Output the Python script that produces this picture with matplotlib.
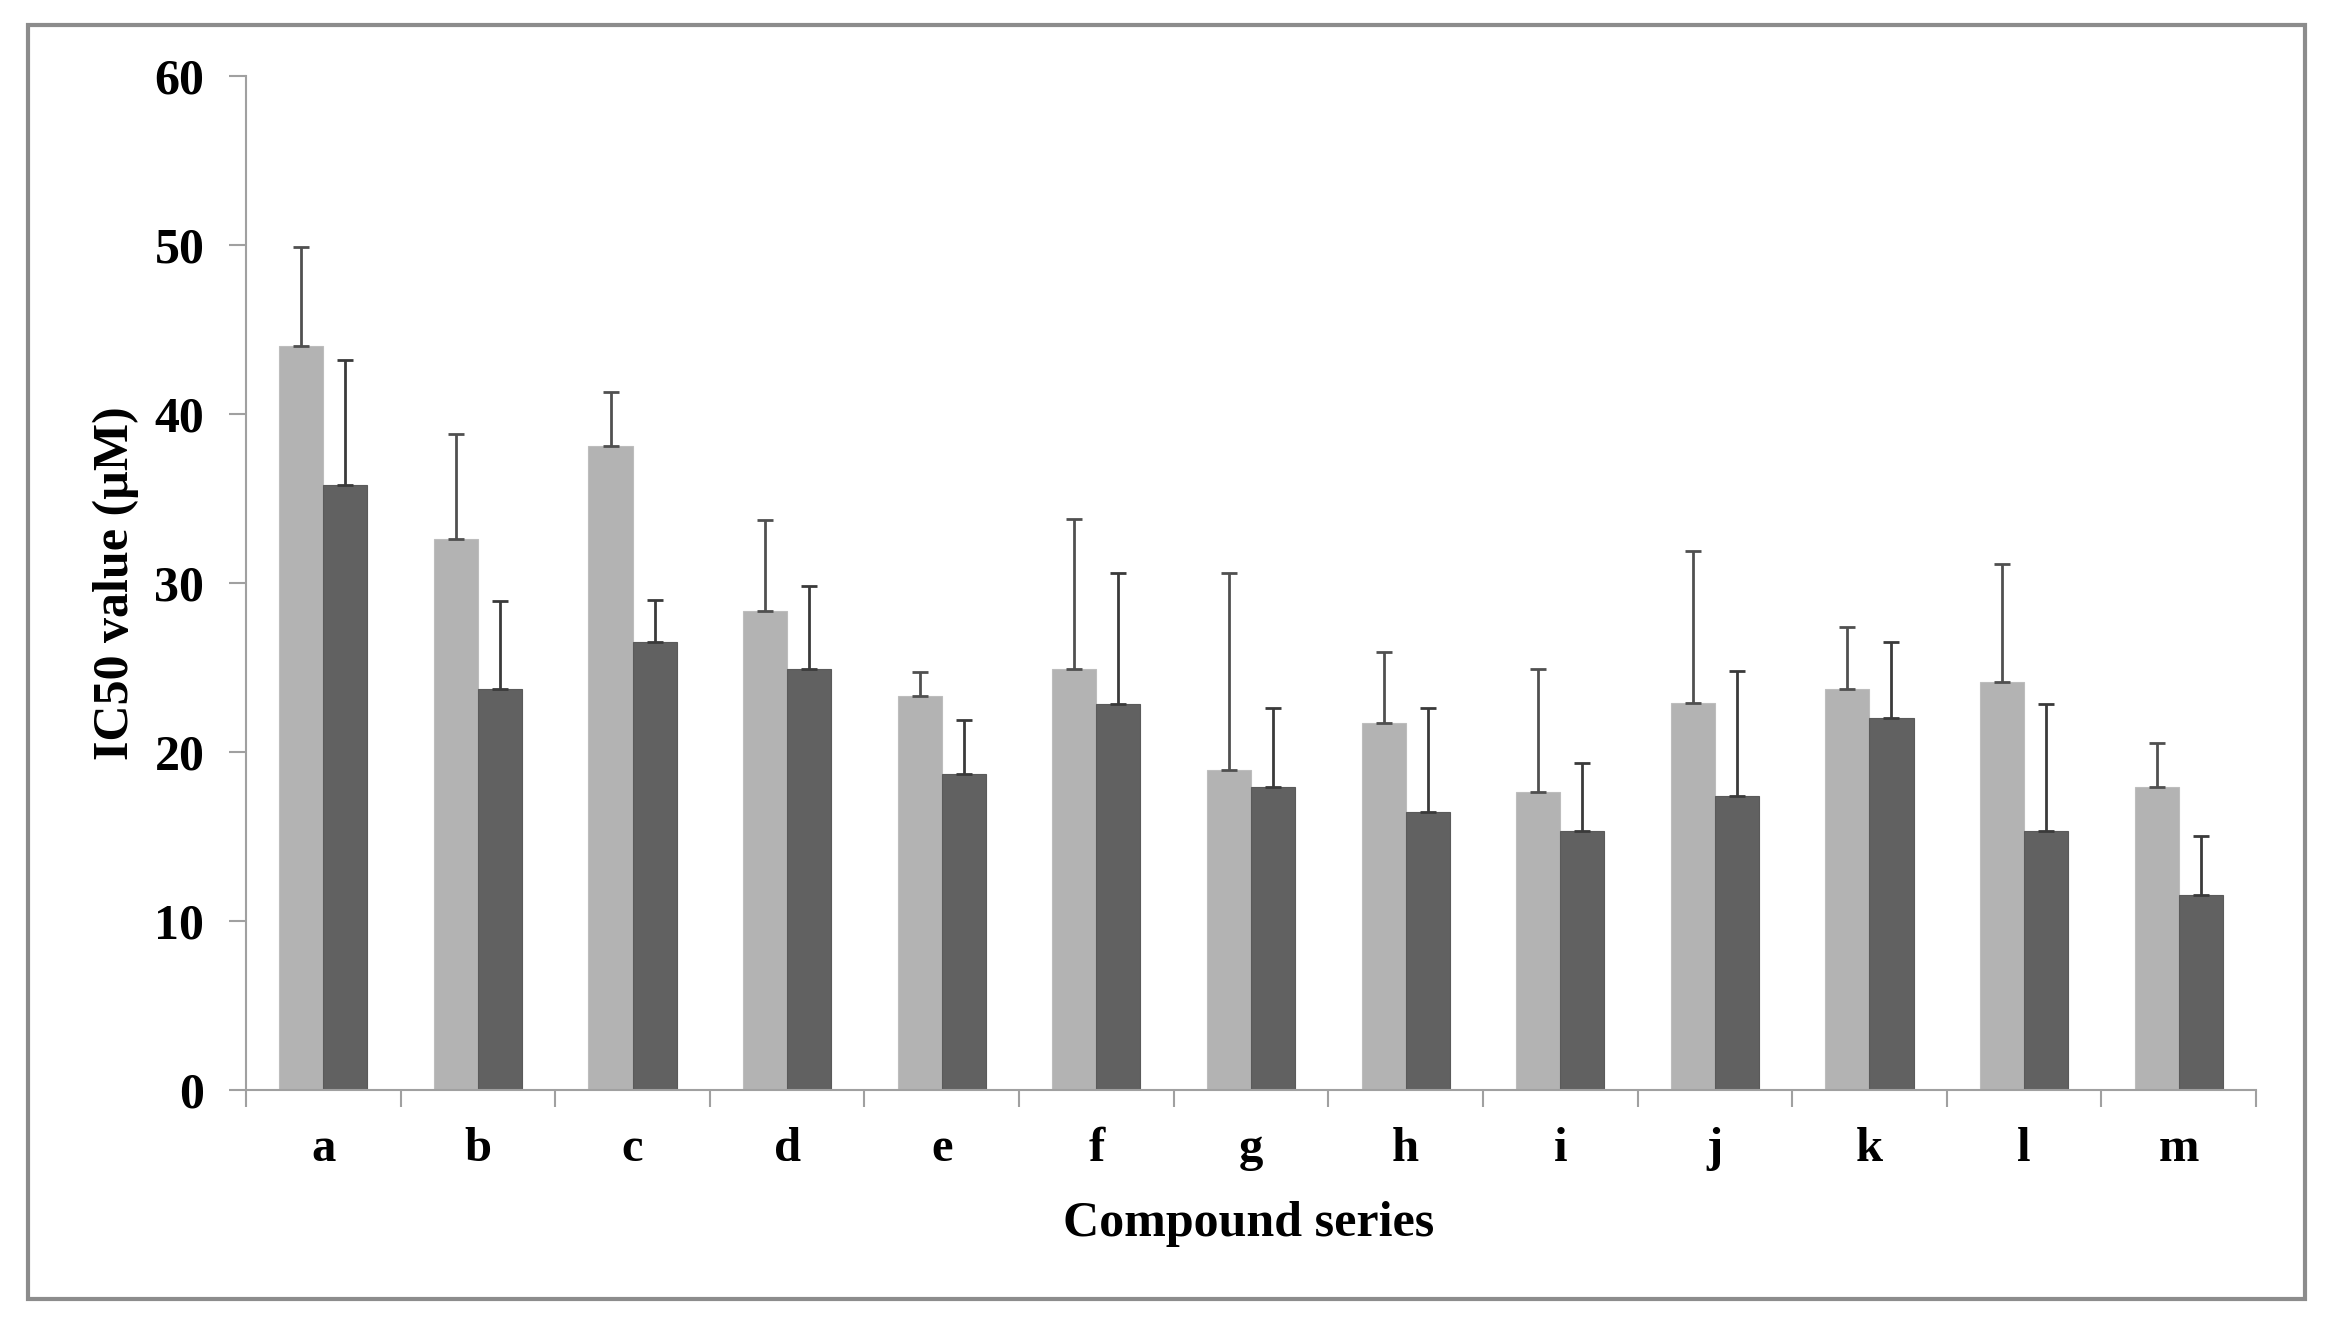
import numpy as np
import matplotlib.pyplot as plt
from matplotlib.patches import Rectangle

# compound series and IC50 values (uM)
categories = ["a", "b", "c", "d", "e", "f", "g", "h", "i", "j", "k", "l", "m"]
light_vals = [44.0, 32.6, 38.1, 28.3, 23.3, 24.9, 18.9, 21.7, 17.6, 22.9, 23.7, 24.1, 17.9]
light_err = [5.9, 6.2, 3.2, 5.4, 1.4, 8.9, 11.7, 4.2, 7.3, 9.0, 3.7, 7.0, 2.6]
dark_vals = [35.8, 23.7, 26.5, 24.9, 18.7, 22.8, 17.9, 16.4, 15.3, 17.4, 22.0, 15.3, 11.5]
dark_err = [7.4, 5.2, 2.5, 4.9, 3.2, 7.8, 4.7, 6.2, 4.0, 7.4, 4.5, 7.5, 3.5]
y_ticks = [0, 10, 20, 30, 40, 50, 60]

W, H = 2344, 1331
AXIS_GRAY = "#a0a0a0"

plt.rcParams["font.family"] = ["Liberation Serif", "DejaVu Serif"]
plt.rcParams["font.weight"] = "bold"

fig = plt.figure(figsize=(W / 100, H / 100), dpi=100)
ax = fig.add_axes([246 / W, 1 - 1089.5 / H, (2256 - 246) / W, (1089.5 - 76) / H])

n = len(categories)
x = np.arange(n)
bw = 0.285

ax.bar(x - bw / 2, light_vals, width=bw, color="#b3b3b3", edgecolor="#bdbdbd", linewidth=0.8, zorder=2)
ax.bar(x + bw / 2, dark_vals, width=bw, color="#616161", edgecolor="#5a5a5a", linewidth=0.8, zorder=2)

ax.errorbar(x - bw / 2, light_vals, yerr=[np.zeros(n), light_err], fmt="none",
            ecolor="#505050", elinewidth=2.0, capsize=6, capthick=2.0, zorder=3)
ax.errorbar(x + bw / 2, dark_vals, yerr=[np.zeros(n), dark_err], fmt="none",
            ecolor="#3a3a3a", elinewidth=2.0, capsize=6, capthick=2.0, zorder=3)

ax.set_xlim(-0.5, n - 0.5)
ax.set_ylim(0, 60)
ax.set_yticks(y_ticks)
ax.set_yticklabels([str(v) for v in y_ticks], fontsize=36, fontweight="bold")

# category boundaries as major ticks, labels on minor ticks
ax.set_xticks(np.arange(n + 1) - 0.5)
ax.set_xticklabels([""] * (n + 1))
ax.set_xticks(x, minor=True)
ax.set_xticklabels(categories, minor=True, fontsize=35, fontweight="bold")
ax.tick_params(axis="x", which="major", length=12, width=1.5, color=AXIS_GRAY, direction="out")
ax.tick_params(axis="x", which="minor", length=0, pad=27)
ax.tick_params(axis="y", length=12, width=1.5, color=AXIS_GRAY, direction="out", pad=18)

for side in ["top", "right"]:
    ax.spines[side].set_visible(False)
for side in ["left", "bottom"]:
    ax.spines[side].set_color(AXIS_GRAY)
    ax.spines[side].set_linewidth(1.5)

ax.set_ylabel("IC50 value (µM)", fontsize=36, fontweight="bold")
ax.yaxis.set_label_coords(-0.053, 0.5)
ax.set_xlabel("Compound series", fontsize=36, fontweight="bold")
ax.xaxis.set_label_coords(0.499, -0.110)

# outer frame around the whole chart
fig.patches.append(Rectangle((28 / W, 1 - 1299 / H), (2305 - 28) / W, (1299 - 25) / H,
                             transform=fig.transFigure, fill=False,
                             edgecolor="#8c8c8c", linewidth=3))

fig.savefig("out.png", dpi=100)
